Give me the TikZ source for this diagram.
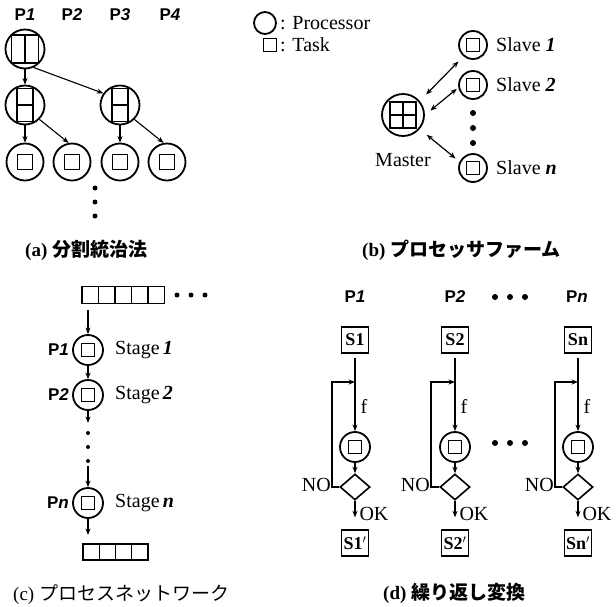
\documentclass[tikz,border=0pt]{standalone}
\usepackage{fontspec}
\setmainfont{Liberation Serif}
\setsansfont{Liberation Sans}
\newfontfamily\cjk{Noto Sans CJK JP}
\usetikzlibrary{arrows.meta,shapes.geometric}

\begin{document}
\begin{tikzpicture}[x=1pt, y=-1pt,
  proc/.style={circle, draw, line width=1.8pt, minimum size=#1, inner sep=0pt},
  proc/.default=30,
  task/.style={rectangle, draw, line width=1.3pt, minimum size=#1, inner sep=0pt},
  task/.default=13,
  arr/.style={-{Stealth[length=6.5pt,width=5pt]}, line width=1.1pt},
  biarr/.style={{Stealth[length=6.5pt,width=5pt]}-{Stealth[length=6.5pt,width=5pt]}, line width=1.2pt},
  lbl/.style={font=\fontsize{20}{23}\selectfont, inner sep=1pt},
  plbl/.style={font=\fontsize{17}{20}\selectfont\sffamily\bfseries, inner sep=1pt},
  sbox/.style={rectangle, draw, line width=1.3pt, minimum width=27pt, minimum height=26pt, inner sep=1pt, font=\fontsize{18}{21}\selectfont\bfseries},
  decide/.style={diamond, draw, line width=1.6pt, minimum width=30pt, minimum height=26pt, inner sep=0pt},
  captxt/.style={font=\fontsize{19}{22}\selectfont, inner sep=0pt, anchor=west}]
\useasboundingbox (0,0) rectangle (616,606);

% (a) divide and conquer
\node[plbl] (ap1) at (25,15) {P\textit{1}};
\node[plbl] (ap2) at (72,15) {P\textit{2}};
\node[plbl] (ap3) at (120,15) {P\textit{3}};
\node[plbl] (ap4) at (170,15) {P\textit{4}};
\node[proc=39] (a0) at (25,49) {};
\node[task, minimum width=27pt, minimum height=28pt] (a0t) at (a0) {};
\draw[line width=1.3pt] (a0t.north) -- (a0t.south);
\node[proc=39] (a1) at (25,105) {};
\node[task, minimum width=16pt, minimum height=33pt] (a1t) at (a1) {};
\draw[line width=1.3pt] (a1t.west) -- (a1t.east);
\node[proc=39] (a2) at (120,105) {};
\node[task, minimum width=16pt, minimum height=33pt] (a2t) at (a2) {};
\draw[line width=1.3pt] (a2t.west) -- (a2t.east);
\node[proc=37] (b1) at (25,162) {}; \node[task=15] (b1t) at (b1) {};
\node[proc=37] (b2) at (72,162) {}; \node[task=15] (b2t) at (b2) {};
\node[proc=37] (b3) at (120,162) {}; \node[task=15] (b3t) at (b3) {};
\node[proc=37] (b4) at (167,162) {}; \node[task=15] (b4t) at (b4) {};
\draw[arr] (a0) -- (a1);
\draw[arr] (a0.-65) -- (a2.145);
\draw[arr] (a1) -- (b1);
\draw[arr] (a1.-45) -- (b2.100);
\draw[arr] (a2) -- (b3);
\draw[arr] (a2.-45) -- (b4.100);
\fill (95,188) circle (2.5pt); \fill (95,202) circle (2.5pt); \fill (95,216) circle (2.5pt);
\node[captxt] (capa) at (25,250) {\textbf{(a)} {\cjk\bfseries 分割統治法}};

% legend
\node[proc=22] (lp) at (265,23) {};
\node[lbl, anchor=west] (lpt) at (279,23) {: Processor};
\node[task] (lt) at (270,45) {};
\node[lbl, anchor=west] (ltt) at (279,45) {: Task};

% (b) processor farm
\node[proc=42] (m) at (403,115) {};
\node[task=26] (mt) at (m) {};
\draw[line width=1.3pt] (mt.north) -- (mt.south) (mt.west) -- (mt.east);
\node[lbl] (mlbl) at (403,160) {Master};
\node[proc=28] (s1) at (473,45) {}; \node[task] (s1t) at (s1) {};
\node[proc=28] (s2) at (473,85) {}; \node[task] (s2t) at (s2) {};
\node[proc=28] (sn) at (473,168) {}; \node[task] (snt) at (sn) {};
\node[lbl, anchor=west] (s1l) at (495,45) {Slave \textbf{\textit{1}}};
\node[lbl, anchor=west] (s2l) at (495,85) {Slave \textbf{\textit{2}}};
\node[lbl, anchor=west] (snl) at (495,168) {Slave \textbf{\textit{n}}};
\draw[biarr, shorten <=9pt, shorten >=7pt] (m.40) -- (s1.-130);
\draw[biarr, shorten <=7pt, shorten >=2pt] (m.east) -- (s2.190);
\draw[biarr, shorten <=9pt, shorten >=5pt] (m.-40) -- (sn.155);
\fill (473,113) circle (3pt); \fill (473,128) circle (3pt); \fill (473,143) circle (3pt);
\node[captxt] (capb) at (362,250) {\textbf{(b)} {\cjk\bfseries プロセッサファーム}};

% (c) process network
\node[task=16.5] (cq1) at (90.25,295) {};
\node[task=16.5] (cq2) at (106.75,295) {};
\node[task=16.5] (cq3) at (123.25,295) {};
\node[task=16.5] (cq4) at (139.75,295) {};
\node[task=16.5] (cq5) at (156.25,295) {};
\fill (177,295) circle (2.5pt); \fill (191,295) circle (2.5pt); \fill (205,295) circle (2.5pt);
\coordinate (cin) at (88,310);
\node[proc] (c1) at (88,350) {}; \node[task] (c1t) at (c1) {};
\node[proc] (c2) at (88,395) {}; \node[task] (c2t) at (c2) {};
\node[proc] (cn) at (88,503) {}; \node[task] (cnt) at (cn) {};
\node[plbl, anchor=east] (c1p) at (70,350) {P\textit{1}};
\node[plbl, anchor=east] (c2p) at (70,395) {P\textit{2}};
\node[plbl, anchor=east] (cnp) at (70,503) {P\textit{n}};
\node[lbl, anchor=west] (c1s) at (114,350) {Stage\,\textbf{\textit{1}}};
\node[lbl, anchor=west] (c2s) at (114,395) {Stage\,\textbf{\textit{2}}};
\node[lbl, anchor=west] (cns) at (114,503) {Stage\,\textbf{\textit{n}}};
\coordinate (cd1) at (88,423);
\coordinate (cd2) at (88,466);
\coordinate (cout) at (88,535);
\draw[arr] (cin) -- (c1);
\draw[arr] (c1) -- (c2);
\draw[arr] (c2) -- (cd1);
\draw[arr] (cd2) -- (cn);
\draw[arr] (cn) -- (cout);
\fill (88,433) circle (2pt); \fill (88,447) circle (2pt); \fill (88,461) circle (2pt);
\node[task=16.25] (co1) at (91.1,552) {};
\node[task=16.25] (co2) at (107.4,552) {};
\node[task=16.25] (co3) at (123.6,552) {};
\node[task=16.25] (co4) at (139.9,552) {};
\node[captxt] (capc) at (13,595) {(c) {\cjk プロセスネットワーク}};

% (d) iterative transformation
\node[plbl] (dp1) at (355,297) {P\textit{1}};
\node[plbl] (dp2) at (455,297) {P\textit{2}};
\node[plbl] (dpn) at (577,297) {P\textit{n}};
\fill (495,297) circle (3pt); \fill (510,297) circle (3pt); \fill (525,297) circle (3pt);
\fill (495,443) circle (3pt); \fill (510,443) circle (3pt); \fill (525,443) circle (3pt);
% column 1
\node[sbox] (d1s) at (355,340) {S1};
\coordinate (d1j) at (355,382);
\coordinate (d1l) at (332,382);
\coordinate (d1m) at (332,487);
\node[proc] (d1) at (355,447) {}; \node[task] (d1t) at (d1) {};
\node[decide] (d1q) at (355,487) {};
\node[sbox] (d1r) at (355,543) {S1$'$};
\draw[line width=1.1pt, shorten <=4pt] (d1s) -- (d1j);
\draw[arr] (d1j) -- node[lbl, right, inner sep=5pt] (d1f) {f} (d1);
\draw[arr] (d1) -- (d1q);
\draw[arr] (d1q.west) -- (d1m) -- (d1l) -- (d1j);
\draw[arr, shorten >=12pt] (d1q) -- node[lbl, right, pos=0.45, inner sep=4pt] (d1ok) {OK} (d1r);
\node[lbl, anchor=east, yshift=2pt] (d1no) at (d1m) {NO};
% column 2
\node[sbox] (d2s) at (455,340) {S2};
\coordinate (d2j) at (455,382);
\coordinate (d2l) at (431,382);
\coordinate (d2m) at (431,487);
\node[proc] (d2) at (455,447) {}; \node[task] (d2t) at (d2) {};
\node[decide] (d2q) at (455,487) {};
\node[sbox] (d2r) at (455,543) {S2$'$};
\draw[line width=1.1pt, shorten <=4pt] (d2s) -- (d2j);
\draw[arr] (d2j) -- node[lbl, right, inner sep=5pt] (d2f) {f} (d2);
\draw[arr] (d2) -- (d2q);
\draw[arr] (d2q.west) -- (d2m) -- (d2l) -- (d2j);
\draw[arr, shorten >=12pt] (d2q) -- node[lbl, right, pos=0.45, inner sep=4pt] (d2ok) {OK} (d2r);
\node[lbl, anchor=east, yshift=2pt] (d2no) at (d2m) {NO};
% column n
\node[sbox] (dns) at (578,340) {Sn};
\coordinate (dnj) at (578,382);
\coordinate (dnl) at (555,382);
\coordinate (dnm) at (555,487);
\node[proc] (dn) at (578,447) {}; \node[task] (dnt) at (dn) {};
\node[decide] (dnq) at (578,487) {};
\node[sbox] (dnr) at (578,543) {Sn$'$};
\draw[line width=1.1pt, shorten <=4pt] (dns) -- (dnj);
\draw[arr] (dnj) -- node[lbl, right, inner sep=5pt] (dnf) {f} (dn);
\draw[arr] (dn) -- (dnq);
\draw[arr] (dnq.west) -- (dnm) -- (dnl) -- (dnj);
\draw[arr, shorten >=12pt] (dnq) -- node[lbl, right, pos=0.45, inner sep=4pt] (dnok) {OK} (dnr);
\node[lbl, anchor=east, yshift=2pt] (dnno) at (dnm) {NO};
\node[captxt] (capd) at (383,593) {\textbf{(d)} {\cjk\bfseries 繰り返し変換}};
\end{tikzpicture}
\end{document}
